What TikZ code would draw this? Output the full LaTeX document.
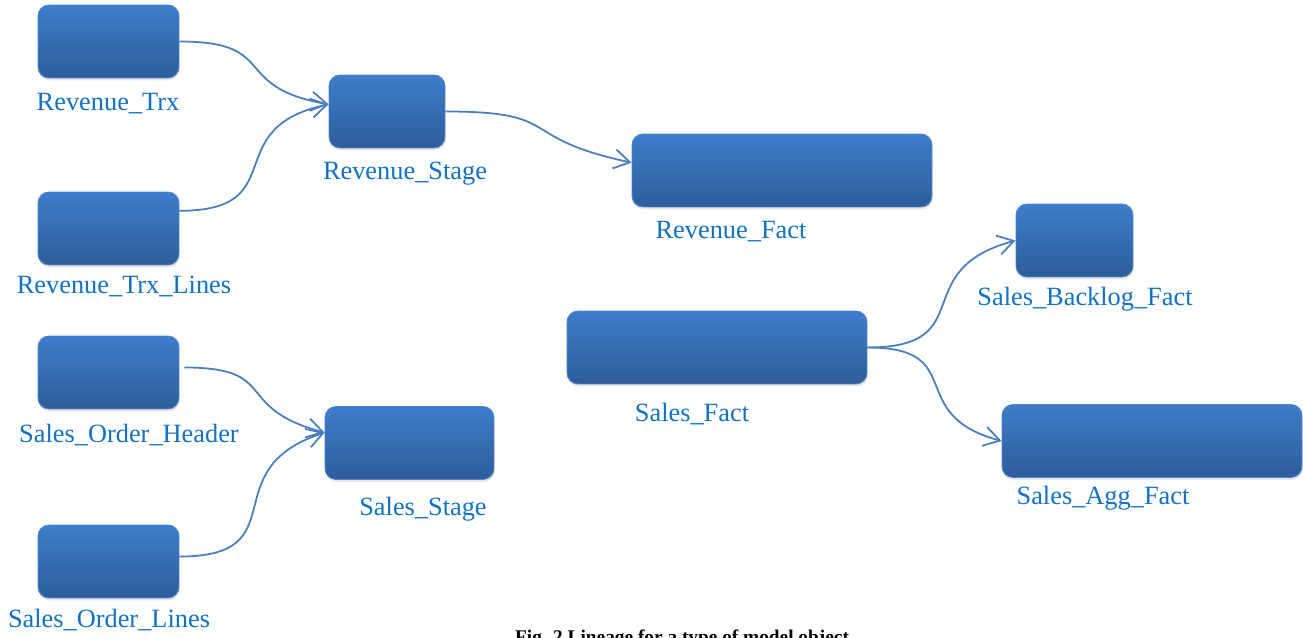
\documentclass[tikz,border=0pt]{standalone}
\usepackage{fontspec}
\setmainfont{Liberation Serif}
\usetikzlibrary{arrows.meta,shadows}

\definecolor{boxtop}{HTML}{3D7DCA}
\definecolor{boxbot}{HTML}{2D5D99}
\definecolor{boxrim}{HTML}{4F86CC}
\definecolor{tagblue}{HTML}{1271C1}
\definecolor{flowblue}{HTML}{4A7EBB}

\tikzset{
    box/.style={rounded corners=0.22cm, minimum height=1.46cm, inner sep=0pt,
        top color=boxtop, bottom color=boxbot, draw=boxrim, line width=0.5pt,
        drop shadow={opacity=0.2, shadow xshift=0.4pt, shadow yshift=-1.4pt}},
    tag/.style={text=tagblue, font=\fontsize{15}{18}\selectfont, inner sep=0pt, anchor=base},
    flow/.style={draw=flowblue, line width=1pt, looseness=1.6,
        -{Straight Barb[length=9pt,width=11pt]}}
}

\begin{document}
\begin{tikzpicture}[x=0.02cm,y=-0.02cm]

    \useasboundingbox (0,0) rectangle (1303,638);

    %source tables:
    \node[box, minimum width=2.82cm] (rtrx)  at (108.5,41.5)  {};
    \node[box, minimum width=2.82cm] (rtrxl) at (108.5,228.5) {};
    \node[box, minimum width=2.82cm] (sohdr) at (108.5,372.5) {};
    \node[box, minimum width=2.82cm] (solin) at (108.5,561.5) {};

    %stage tables:
    \node[box, minimum width=2.32cm] (rstage) at (387,111.5) {};
    \node[box, minimum width=3.38cm] (sstage) at (409.5,443) {};

    %fact tables:
    \node[box, minimum width=6cm]    (rfact)   at (782,170.5)  {};
    \node[box, minimum width=6cm]    (sfact)   at (717,347.5)  {};
    \node[box, minimum width=2.34cm] (sblog)   at (1074.5,240.5) {};
    \node[box, minimum width=6cm]    (saggf)   at (1152,441)   {};

    %labels:
    \node[tag] (rtrxtag)   at (108,111)  {Revenue\_Trx};
    \node[tag] (rtrxltag)  at (124,294)  {Revenue\_Trx\_Lines};
    \node[tag] (sohdrtag)  at (129,443)  {Sales\_Order\_Header};
    \node[tag] (solintag)  at (109,628)  {Sales\_Order\_Lines};
    \node[tag] (rstagetag) at (405,180)  {Revenue\_Stage};
    \node[tag] (sstagetag) at (423,516)  {Sales\_Stage};
    \node[tag] (rfacttag)  at (731,239)  {Revenue\_Fact};
    \node[tag] (sfacttag)  at (692,422)  {Sales\_Fact};
    \node[tag] (sblogtag)  at (1085,306) {Sales\_Backlog\_Fact};
    \node[tag] (saggftag)  at (1103,505) {Sales\_Agg\_Fact};

    %lineage:
    \draw[flow] (rtrx.east) to[out=0, in=170] (rstage.173);
    \draw[flow] (rtrxl.14) to[out=0, in=192] (rstage.173);
    \draw[flow] (rstage.east) to[out=0, in=168] (rfact.177);
    \draw[flow] ([shift={(5,-5)}]sohdr.east) to[out=0, in=165] (sstage.173);
    \draw[flow] (solin.4) to[out=0, in=198] (sstage.173);
    \draw[flow] (sfact.east) to[out=0, in=195] (sblog.west);
    \draw[flow] (sfact.east) to[out=0, in=165] (saggf.west);

    %caption, cut by the page edge:
    \node[font=\bfseries\fontsize{11}{13}\selectfont, anchor=base] (caption) at (682,644)
        {Fig. 2 Lineage for a type of model object};

\end{tikzpicture}
\end{document}
